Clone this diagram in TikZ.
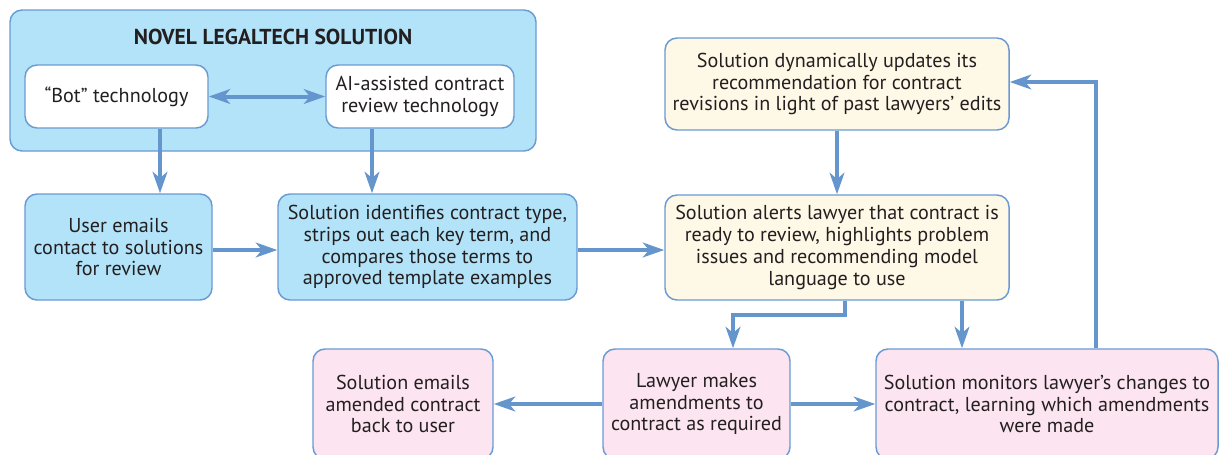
\documentclass[tikz,border=0pt]{standalone}
\usepackage{fontspec}
\setmainfont{PT Sans}
\usetikzlibrary{arrows.meta}
\definecolor{bdr}{HTML}{6A9BD3}
\definecolor{arrc}{HTML}{6496CD}
\definecolor{bluef}{HTML}{B3E3F8}
\definecolor{yelf}{HTML}{FEF8E6}
\definecolor{pinkf}{HTML}{FCE5F0}
\definecolor{txt}{HTML}{231F20}
\tikzset{
  box/.style={draw=bdr, line width=1.1pt, rounded corners=9pt, align=center,
    text=txt, font=\fontsize{15.1}{16.4}\selectfont, inner sep=0pt},
  bluebox/.style={box, fill=bluef},
  whitebox/.style={box, fill=white},
  yelbox/.style={box, fill=yelf},
  pinkbox/.style={box, fill=pinkf},
  flow/.style={draw=arrc, line width=3pt,
    -{Stealth[length=16pt, width=11pt, inset=4.5pt]}},
  bothflow/.style={draw=arrc, line width=3pt,
    {Stealth[length=16pt, width=11pt, inset=4.5pt]}-{Stealth[length=16pt, width=11pt, inset=4.5pt]}}
}
\begin{document}
\begin{tikzpicture}[x=0.75pt, y=-0.75pt]
\clip (0,0) rectangle (1219,454);
\fill[white] (0,0) rectangle (1219,454);

% top group
\node[bluebox, minimum width=394.5pt, minimum height=105.75pt] (outer) at (273,80.5) {};
\node[text=txt, font=\bfseries\fontsize{16.2}{18}\selectfont] (title) at (273,37) {NOVEL LEGALTECH SOLUTION};
\node[whitebox, minimum width=137.25pt, minimum height=47.25pt] (bot) at (116.5,96.5) {“Bot” technology};
\node[whitebox, minimum width=141pt, minimum height=47.25pt] (ai) at (420,96.5) {AI-assisted contract\\review technology};

% middle row
\node[bluebox, minimum width=140.25pt, minimum height=79.5pt] (user) at (118.5,247) {User emails\\contact to solutions\\for review};
\node[bluebox, minimum width=224.25pt, minimum height=79.5pt] (ident) at (427.5,247) {Solution identifies contract type,\\strips out each key term, and\\compares those terms to\\approved template examples};
\node[yelbox, minimum width=258pt, minimum height=69pt] (dyn) at (837,84) {Solution dynamically updates its\\recommendation for contract\\revisions in light of past lawyers’ edits};
\node[yelbox, minimum width=258pt, minimum height=78.75pt] (alert) at (837,247.5) {Solution alerts lawyer that contract is\\ready to review, highlights problem\\issues and recommending model\\language to use};

% bottom row
\node[pinkbox, minimum width=135pt, minimum height=82.5pt] (back) at (403,404) {Solution emails\\amended contract\\back to user};
\node[pinkbox, minimum width=140.25pt, minimum height=82.5pt] (lawyer) at (696.5,404) {Lawyer makes\\amendments to\\contract as required};
\node[pinkbox, minimum width=256.5pt, minimum height=82.5pt] (mon) at (1047,404) {Solution monitors lawyer’s changes to\\contract, learning which amendments\\were made};

% helper coordinates
\coordinate (xa) at (160,0);
\coordinate (xb) at (372,0);
\coordinate (xc) at (845,0);
\coordinate (bend1) at (845,315);
\coordinate (bend2) at (733,315);
\coordinate (xd) at (962,0);
\coordinate (xe) at (1096,0);
\coordinate (ytop) at (0,82);
\coordinate (ymid) at (0,250);

% connectors
\draw[bothflow] (bot.east) -- (ai.west);
\draw[flow] (bot.south -| xa) -- (user.north -| xa);
\draw[flow] (ai.south -| xb) -- (ident.north -| xb);
\draw[flow] (user.east |- ymid) -- (ident.west |- ymid);
\draw[flow] (ident.east |- ymid) -- (alert.west |- ymid);
\draw[flow] (dyn.south) -- (alert.north);
\draw[flow] (alert.south -| xc) -- (bend1) -- (bend2) -- (lawyer.north -| bend2);
\draw[flow] (alert.south -| xd) -- (mon.north -| xd);
\draw[flow] (lawyer.west) -- (back.east);
\draw[flow] (lawyer.east) -- (mon.west);
\draw[flow] (mon.north -| xe) -- (xe |- ytop) -- (dyn.east |- ytop);
\end{tikzpicture}
\end{document}
